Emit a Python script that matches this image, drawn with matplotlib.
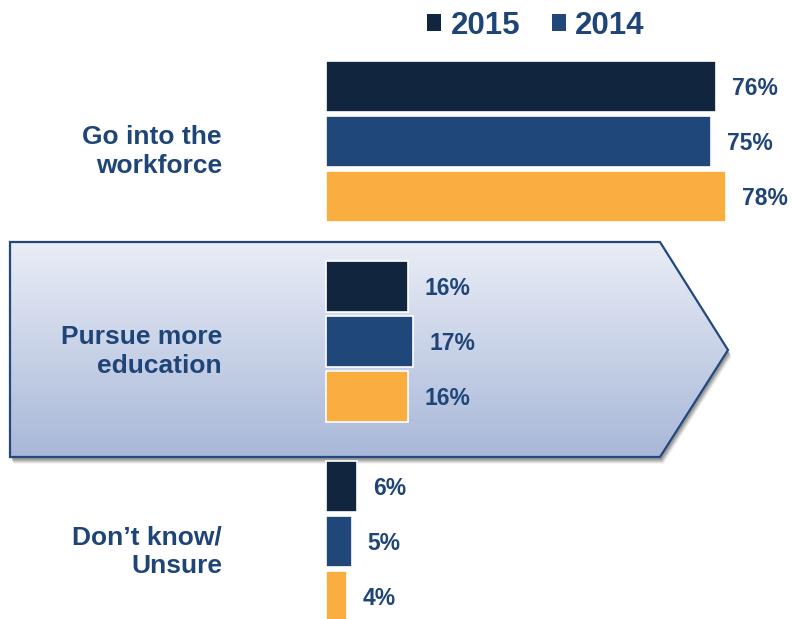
import matplotlib
matplotlib.use("Agg")
import matplotlib.pyplot as plt
import numpy as np
from matplotlib.patches import Polygon, Patch

categories = ["Go into the\nworkforce", "Pursue more\neducation", "Don\u2019t know/\nUnsure"]
series_names = ["2015", "2014", ""]
values_2015 = [76, 16, 6]
values_2014 = [75, 17, 5]
values_other = [78, 16, 4]
series_values = [values_2015, values_2014, values_other]
colors = ["#12253f", "#1f477a", "#fbae40"]
text_color = "#1f4477"

plt.rcParams['font.family'] = ['Liberation Sans', 'DejaVu Sans']

W, H = 792, 619
fig = plt.figure(figsize=(W / 100, H / 100), dpi=100)
ax = fig.add_axes([0, 0, 1, 1])
ax.axis('off')

# pixel <-> data mapping
x0_px, px_per_unit = 326, 5.13
y0_px, px_per_row = 86.5, 55.0
def px2x(px):
    return (px - x0_px) / px_per_unit
def px2y(py):
    return (py - y0_px) / px_per_row

xlim = (px2x(0), px2x(W))
ylim = (px2y(H), px2y(0))

group_step = 200 / 55.0
bar_h = 51 / 55.0

# arrow background (decoration)
arrow_px = [(10, 242), (660, 242), (728, 350), (660, 457), (10, 457)]
arrow_d = [(px2x(a), px2y(b)) for a, b in arrow_px]
# shadow
for off, al in [(7, 0.05), (6, 0.07), (5, 0.09), (4, 0.11), (3, 0.13)]:
    sh = Polygon([(px2x(a + off * 0.5), px2y(b + off)) for a, b in arrow_px],
                 closed=True, facecolor="#000000", edgecolor="none", alpha=al, zorder=0.5)
    ax.add_patch(sh)
poly = Polygon(arrow_d, closed=True, facecolor="none", edgecolor="#24487c", linewidth=1.6, zorder=1.2)
ax.add_patch(poly)
grad = np.linspace(0, 1, 256).reshape(-1, 1)
top = np.array([0.915, 0.93, 0.965])
bot = np.array([0.66, 0.72, 0.85])
img = top + (bot - top) * grad[..., None]
img = img.reshape(256, 1, 3)
im = ax.imshow(img, extent=(px2x(10), px2x(728), px2y(457), px2y(242)),
               aspect='auto', zorder=1, interpolation='bilinear')
clip = Polygon(arrow_d, closed=True, transform=ax.transData)
im.set_clip_path(clip)

# bars
bars = []
for s, (vals, col) in enumerate(zip(series_values, colors)):
    ys = [g * group_step + s for g in range(len(categories))]
    b = ax.barh(ys, vals, height=bar_h, color=col, edgecolor="white", linewidth=1.2, zorder=3)
    bars.append(b)
    for y, v in zip(ys, vals):
        ax.text(v + 16 / px_per_unit, y + 0.03, f"{v}%", ha='left', va='center',
                fontsize=16.5, fontweight='bold', color=text_color, zorder=4)

for g, cat in enumerate(categories):
    ax.text(px2x(222), g * group_step + 1 + 0.18, cat, ha='right', va='center',
            multialignment='right', fontsize=19, fontweight='bold', color=text_color,
            linespacing=1.25, zorder=4)

ax.set_xlim(*xlim)
ax.set_ylim(*ylim)

handles = [Patch(facecolor=colors[0]), Patch(facecolor=colors[1])]
leg = fig.legend(handles, series_names[:2], loc='center', bbox_to_anchor=(536 / W, 1 - 26 / H),
                 ncol=2, frameon=False, fontsize=22.5, handlelength=0.45, handleheight=0.45,
                 handletextpad=0.3, columnspacing=1.0)
for t in leg.get_texts():
    t.set_color(text_color)
    t.set_fontweight('bold')

fig.savefig("out.png", dpi=100)
